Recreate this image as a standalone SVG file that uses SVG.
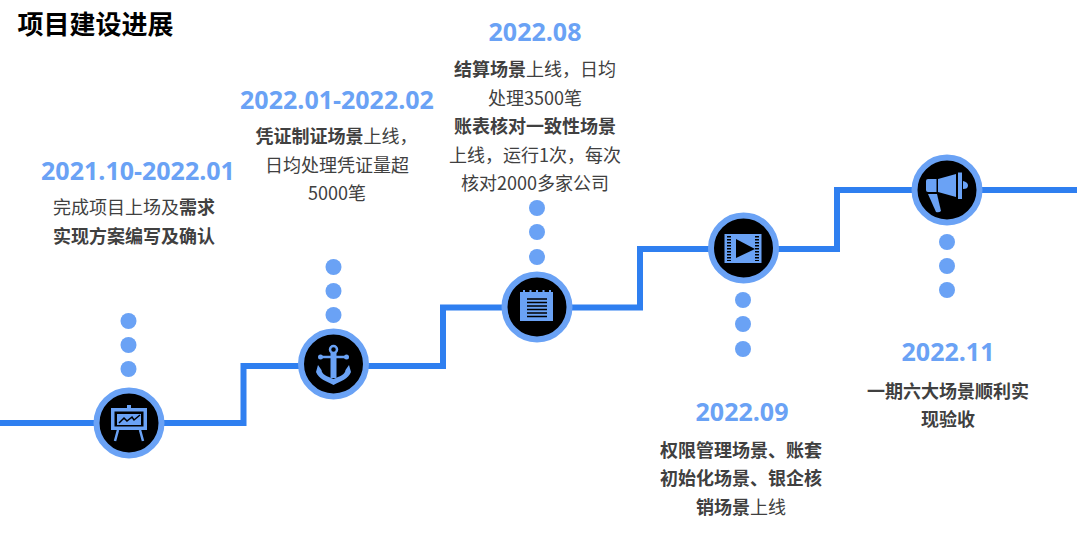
<svg xmlns="http://www.w3.org/2000/svg" width="1080" height="554" viewBox="0 0 1080 554">
<style>
text{font-family:"Noto Sans CJK SC","Open Sans",sans-serif;text-anchor:middle}
.d{font-family:"Open Sans","Noto Sans CJK SC",sans-serif;font-size:25px;font-weight:700;fill:#6aa2f5}
.b{font-size:18px;fill:#404040}
.s{font-weight:700}
.ln{fill:none;stroke:#2f7ff0;stroke-width:6}
.ring{fill:#000;stroke:#6aa2f5;stroke-width:6}
.dot,.ic{fill:#6aa2f5}
.ib{fill:#000}
.il{fill:none;stroke:#6aa2f5;stroke-width:2.500}
</style>
<rect width="1080" height="554" fill="#fff"/>
<text id="title" x="95.500" y="34" font-size="26" font-weight="700" fill="#000">项目建设进展</text>
<g id="connectors">
<path class="ln" d="M0 423H243.500V366H443V307.500H640V249H837V190H1077"/>
</g>
<g id="node1">
<circle class="dot" cx="128.500" cy="321" r="8"/><circle class="dot" cx="128.500" cy="345" r="8"/><circle class="dot" cx="128.500" cy="369" r="8"/>
<circle class="ring" cx="129" cy="423" r="32.500"/>
<rect class="ic" x="127" y="405" width="4" height="4"/>
<rect class="ic" x="111" y="408" width="36" height="22"/>
<rect class="ib" x="114.500" y="411.500" width="29" height="15"/>
<rect class="ic" x="117" y="414" width="24" height="11"/>
<path fill="none" stroke="#000" stroke-width="1.500" d="M119 423L124 418L127 421L132 417L134 420L140 415"/>
<path class="il" d="M118 430L115 441M140 430L143 441"/>
<text class="d" x="138" y="180">2021.10-2022.01</text>
<text class="b" x="134" y="214">完成项目上场及<tspan class="s">需求</tspan></text>
<text class="b s" x="134" y="243">实现方案编写及确认</text>
</g>
<g id="node2">
<circle class="dot" cx="333.500" cy="267" r="8"/><circle class="dot" cx="333.500" cy="291" r="8"/><circle class="dot" cx="333.500" cy="315" r="8"/>
<circle class="ring" cx="333.500" cy="364" r="32.500"/>
<circle class="il" cx="333.500" cy="349.500" r="3.500"/>
<path class="il" d="M321 357H346"/>
<circle class="ic" cx="320.500" cy="357" r="2.500"/><circle class="ic" cx="346.500" cy="357" r="2.500"/>
<path class="ic" d="M330.500 353H336.500V378H330.500Z"/>
<path class="ic" d="M318 365L321.500 370C322 375 327 376 333.500 379C340 376 345 375 345.500 370L349 365L351 372C348 379 341 381 333.500 385C326 381 319 379 316 372Z"/>
<text class="d" x="337" y="109">2022.01-2022.02</text>
<text class="b" x="336.500" y="143"><tspan class="s">凭证制证场景</tspan>上线，</text>
<text class="b" x="337" y="172">日均处理凭证量超</text>
<text class="b" x="337" y="200">5000笔</text>
</g>
<g id="node3">
<circle class="dot" cx="537" cy="208" r="8"/><circle class="dot" cx="537" cy="232" r="8"/><circle class="dot" cx="537" cy="257" r="8"/>
<circle class="ring" cx="537" cy="307" r="32.500"/>
<rect class="ic" x="520" y="292" width="33" height="29"/>
<path fill="none" stroke="#6aa2f5" stroke-width="2" d="M524 296V290M530.500 296V290M537 296V290M543.500 296V290M550 296V290"/>
<path fill="none" stroke="#000" stroke-width="1.300" d="M527 299H547M527 302.500H547M527 306H547M527 309.500H547M527 313H547M527 316.500H547"/>
<text class="d" x="535" y="41">2022.08</text>
<text class="b" x="535" y="76"><tspan class="s">结算场景</tspan>上线，日均</text>
<text class="b" x="535" y="105">处理3500笔</text>
<text class="b s" x="535" y="133">账表核对一致性场景</text>
<text class="b" x="535" y="162">上线，运行1次，每次</text>
<text class="b" x="535" y="190">核对2000多家公司</text>
</g>
<g id="node4">
<circle class="dot" cx="743" cy="300" r="8"/><circle class="dot" cx="743" cy="324" r="8"/><circle class="dot" cx="743" cy="349" r="8"/>
<circle class="ring" cx="743.500" cy="248" r="32.500"/>
<rect class="ic" x="724.500" y="234" width="37" height="29"/>
<path class="ib" d="M736 239L755 249L736 258Z"/>
<path fill="none" stroke="#000" stroke-width="4" stroke-dasharray="1.500 1.500" d="M729 236V261M757 236V261"/>
<text class="d" x="742" y="421">2022.09</text>
<text class="b s" x="741" y="457">权限管理场景、账套</text>
<text class="b s" x="741" y="485">初始化场景、银企核</text>
<text class="b" x="741" y="514"><tspan class="s">销场景</tspan>上线</text>
</g>
<g id="node5">
<circle class="dot" cx="947" cy="242" r="8"/><circle class="dot" cx="947" cy="266" r="8"/><circle class="dot" cx="947" cy="290" r="8"/>
<circle class="ring" cx="947" cy="190" r="32.500"/>
<path class="ic" d="M928 179H936.500V192H928Q926 192 926 190V181Q926 179 928 179Z"/>
<path class="ic" d="M938 179L956 174V197L938 192Z"/>
<path class="ic" d="M958 172.500H962V199H958Z"/>
<path class="ic" d="M963 181Q968 182 968 185.500Q968 189 963 189Z"/>
<path class="ic" d="M928 194H937L941 211Q939 213 936 212Z"/>
<text class="d" x="948" y="361">2022.11</text>
<text class="b s" x="948" y="398">一期六大场景顺利实</text>
<text class="b s" x="948" y="426">现验收</text>
</g>
</svg>
